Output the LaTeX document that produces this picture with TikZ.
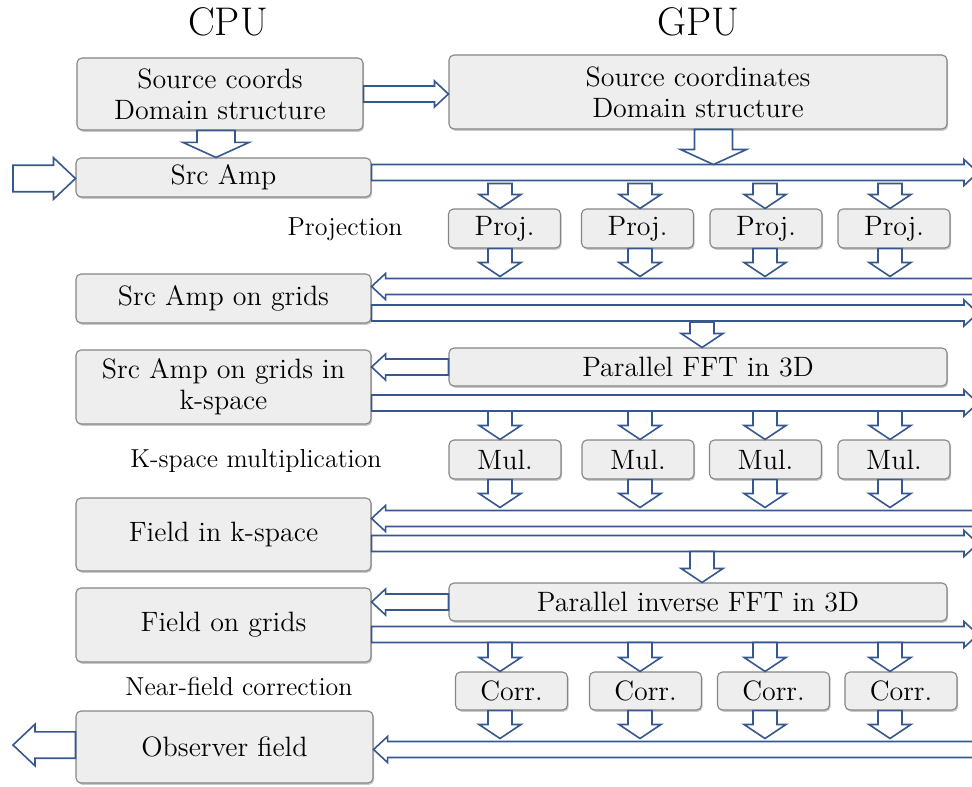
\documentclass[tikz,border=0pt]{standalone}
\usetikzlibrary{calc,shadows}

\definecolor{arrblue}{HTML}{36588F}
\definecolor{boxfill}{HTML}{EEEEEE}
\definecolor{boxline}{HTML}{858585}

\newcommand\boxfont{\fontsize{14}{15.5}\selectfont}
\newcommand\lblfont{\fontsize{13}{15}\selectfont}
\newcommand\hdrfont{\fontsize{20}{24}\selectfont}

% hollow block arrow: tail, tip, half shaft width, half head width, head length
\newcommand\blockarrow[5]{%
  \draw[blk] let \p1=#1, \p2=#2, \n1={atan2(\y2-\y1,\x2-\x1)} in
    ($(\p1)+(\n1+90:#3)$)
    -- ($(\p2)+(\n1+180:#5)+(\n1+90:#3)$)
    -- ($(\p2)+(\n1+180:#5)+(\n1+90:#4)$)
    -- (\p2)
    -- ($(\p2)+(\n1+180:#5)+(\n1-90:#4)$)
    -- ($(\p2)+(\n1+180:#5)+(\n1-90:#3)$)
    -- ($(\p1)+(\n1-90:#3)$) -- cycle;}
\newcommand\busarrow[2]{\blockarrow{#1}{#2}{4pt}{6.5pt}{7pt}}
\newcommand\droparrow[2]{\blockarrow{#1}{#2}{6pt}{10.5pt}{7pt}}
\newcommand\bigarrow[2]{\blockarrow{#1}{#2}{9.5pt}{16.5pt}{7.5pt}}
\newcommand\sidearrow[2]{\blockarrow{#1}{#2}{6.6pt}{10.4pt}{11pt}}

\begin{document}
\begin{tikzpicture}[x=0.5pt,y=-0.5pt,
  box/.style={draw=boxline, fill=boxfill, rounded corners=2.5pt, line width=0.55pt,
    inner sep=0pt, align=center, font=\boxfont,
    drop shadow={shadow xshift=0.6pt, shadow yshift=-0.9pt, opacity=0.3, fill=black!70}},
  cpubox/.style={box, minimum width=147.5pt},
  gpubox/.style={box, minimum width=249pt},
  unitbox/.style={box, minimum width=56pt, minimum height=19.5pt},
  blk/.style={draw=arrblue, fill=white, line width=0.8pt, line join=miter},
  lbl/.style={font=\lblfont, inner sep=0pt},
  hdr/.style={font=\hdrfont, inner sep=0pt}]
\useasboundingbox (0,0) rectangle (972,786);
\clip (0,0) rectangle (972,786);

% column headers
\node[hdr] (cpu) at (228,22) {CPU};
\node[hdr] (gpu) at (698,22) {GPU};

% CPU column
\node[box, minimum width=143pt, minimum height=36pt] (cpusrc) at (220,94) {Source coords\\Domain structure};
\node[cpubox, minimum height=19.5pt] (srcamp) at (223.5,177.5) {Src Amp};
\node[cpubox, minimum height=24.5pt] (grids) at (223.5,298.5) {Src Amp on grids};
\node[cpubox, minimum height=37pt] (kgrids) at (223.5,387) {Src Amp on grids in\\k-space};
\node[cpubox, minimum height=36.5pt] (kfield) at (223.5,534.5) {Field in k-space};
\node[cpubox, minimum height=37pt] (field) at (223.5,625) {Field on grids};
\node[box, minimum width=148.5pt, minimum height=36pt] (obs) at (224.5,747) {Observer field};

% GPU column
\node[gpubox, minimum height=37pt] (gpusrc) at (698,92) {Source coordinates\\Domain structure};
\node[gpubox, minimum height=19pt] (pfft) at (698,367) {Parallel FFT in 3D};
\node[gpubox, minimum height=19pt] (pifft) at (698,602) {Parallel inverse FFT in 3D};
\foreach \i/\x in {1/504.5,2/637.5,3/766,4/894}
  \node[unitbox] (proj\i) at (\x,228.5) {Proj.};
\foreach \i/\x in {1/505,2/638,3/765.5,4/894}
  \node[unitbox] (mul\i) at (\x,459.5) {Mul.};
\foreach \i/\x in {1/511.5,2/645.5,3/773.5,4/901}
  \node[unitbox, minimum height=19pt] (corr\i) at (\x,691) {Corr.};

% stage labels
\node[lbl, anchor=base] (projlbl) at (345,235) {Projection};
\node[lbl, anchor=base] (mullbl) at (256,467) {K-space multiplication};
\node[lbl, anchor=base] (corrlbl) at (239,695) {Near-field correction};

% reference levels for the transfer arrows
\coordinate (inL) at (13,178.5);
\coordinate (outL) at (13,745);
\coordinate (edgeR) at (978,0);
\coordinate (edgeS) at (995,0);
\coordinate (busA) at (0,172.5);
\coordinate (busB) at (0,286.5);
\coordinate (busC) at (0,313);
\coordinate (busD) at (0,403);
\coordinate (busE) at (0,518.5);
\coordinate (busF) at (0,543.5);
\coordinate (busG) at (0,634.5);
\coordinate (busH) at (0,749.5);
\coordinate (col1) at (500,0);
\coordinate (col2) at (640,0);
\coordinate (col3) at (765,0);
\coordinate (col4) at (890,0);
\coordinate (midA) at (713.5,0);
\coordinate (midB) at (702,0);

% source data
\busarrow{(cpusrc.east)}{(cpusrc.east -| gpusrc.west)}
\bigarrow{($(cpusrc.south)+(-4,0)$)}{($(srcamp.north)+(-7.5,0)$)}
\sidearrow{(inL)}{(srcamp.west |- inL)}
\busarrow{(srcamp.east |- busA)}{(edgeR |- busA)}
\bigarrow{(midA |- gpusrc.south)}{($(midA |- busA)+(0,-8)$)}

% projection
\foreach \i in {1,...,4}{
  \droparrow{($(col\i |- busA)+(0,11)$)}{(col\i |- proj\i.north)}
  \droparrow{(col\i |- proj\i.south)}{($(col\i |- busB)+(0,-10)$)}
}
\busarrow{(edgeS |- busB)}{(grids.east |- busB)}
\busarrow{(grids.east |- busC)}{(edgeR |- busC)}

% forward FFT
\droparrow{($(midB |- busC)+(0,9)$)}{(midB |- pfft.north)}
\busarrow{(pfft.west)}{(kgrids.east |- pfft.west)}
\busarrow{(kgrids.east |- busD)}{(edgeR |- busD)}

% k-space multiplication
\foreach \i in {1,...,4}{
  \droparrow{($(col\i |- busD)+(0,8)$)}{(col\i |- mul\i.north)}
  \droparrow{(col\i |- mul\i.south)}{($(col\i |- busE)+(0,-11)$)}
}
\busarrow{(edgeS |- busE)}{(kfield.east |- busE)}
\busarrow{(kfield.east |- busF)}{(edgeR |- busF)}

% inverse FFT
\droparrow{($(midB |- busF)+(0,8)$)}{(midB |- pifft.north)}
\busarrow{(pifft.west)}{(field.east |- pifft.west)}
\busarrow{(field.east |- busG)}{(edgeR |- busG)}

% near-field correction
\foreach \i in {1,...,4}{
  \droparrow{($(col\i |- busG)+(0,8)$)}{(col\i |- corr\i.north)}
  \droparrow{(col\i |- corr\i.south)}{($(col\i |- busH)+(0,-11)$)}
}
\busarrow{(edgeS |- busH)}{(obs.east |- busH)}
\sidearrow{(obs.west |- outL)}{(outL)}
\end{tikzpicture}
\end{document}
